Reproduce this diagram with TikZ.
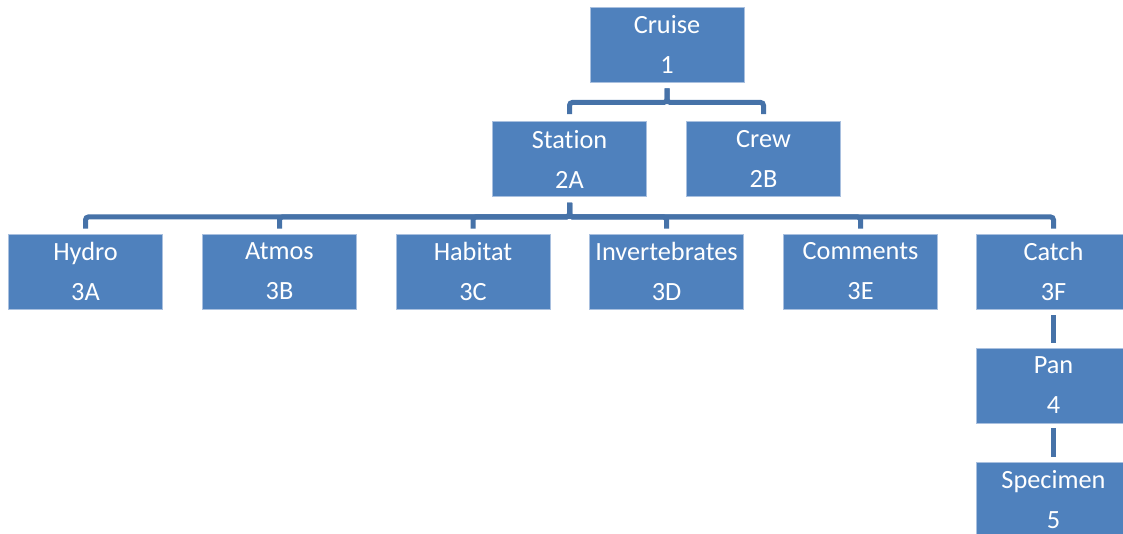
\documentclass[tikz,border=0pt]{standalone}
\usepackage{fontspec}
\setmainfont{Carlito}[Ligatures=NoCommon]
\usetikzlibrary{calc}
\definecolor{cfill}{HTML}{4F81BD}
\definecolor{cedge}{HTML}{A9C0DF}
\definecolor{cline}{HTML}{4672A8}
\tikzset{
  every picture/.style={x=1pt, y=-1pt},
  unit/.style={draw=cedge, fill=cfill, line width=0.8pt, text=white, align=center,
    inner sep=0pt, minimum width=154pt, minimum height=75pt,
    font=\fontsize{26.3}{40}\selectfont},
  link/.style={draw=cline, line width=5pt, rounded corners=3pt},
}
\begin{document}
\begin{tikzpicture}
  \clip (0,0) rectangle (1123,533);
  \fill[white] (0,0) rectangle (1123,533);
  % level 1 and 2
  \node[unit] (cruise) at (667,44.5) {Cruise\\1};
  \node[unit] (station) at (569.5,159) {Station\\2A};
  \node[unit] (crew) at (763.5,159) {Crew\\2B};
  % level 3
  \node[unit] (hydro) at (85.5,271.5) {Hydro\\3A};
  \node[unit] (atmos) at (279.5,271.5) {Atmos\\3B};
  \node[unit] (habitat) at (473,271.5) {Habitat\\3C};
  \node[unit] (invert) at (666.5,271.5) {Invertebrates\\3D};
  \node[unit] (comments) at (860.5,271.5) {Comments\\3E};
  \node[unit] (catch) at (1053.5,271.5) {Catch\\3F};
  % levels 4 and 5
  \node[unit] (pan) at (1053.5,385.5) {Pan\\4};
  \node[unit] (specimen) at (1053.5,499.5) {Specimen\\5};
  % connectors
  \foreach \c in {station,crew}
    \draw[link] ($(cruise.south)+(0,6)$) -- ++(0,14) -| ($(\c.north)+(0,-7)$);
  \foreach \c in {hydro,atmos,habitat,invert,comments,catch}
    \draw[link] ($(station.south)+(0,6)$) -- ++(0,14) -| ($(\c.north)+(0,-5)$);
  \draw[link] ($(catch.south)+(0,6)$) -- ($(pan.north)+(0,-5)$);
  \draw[link] ($(pan.south)+(0,5)$) -- ($(specimen.north)+(0,-5)$);
\end{tikzpicture}
\end{document}
